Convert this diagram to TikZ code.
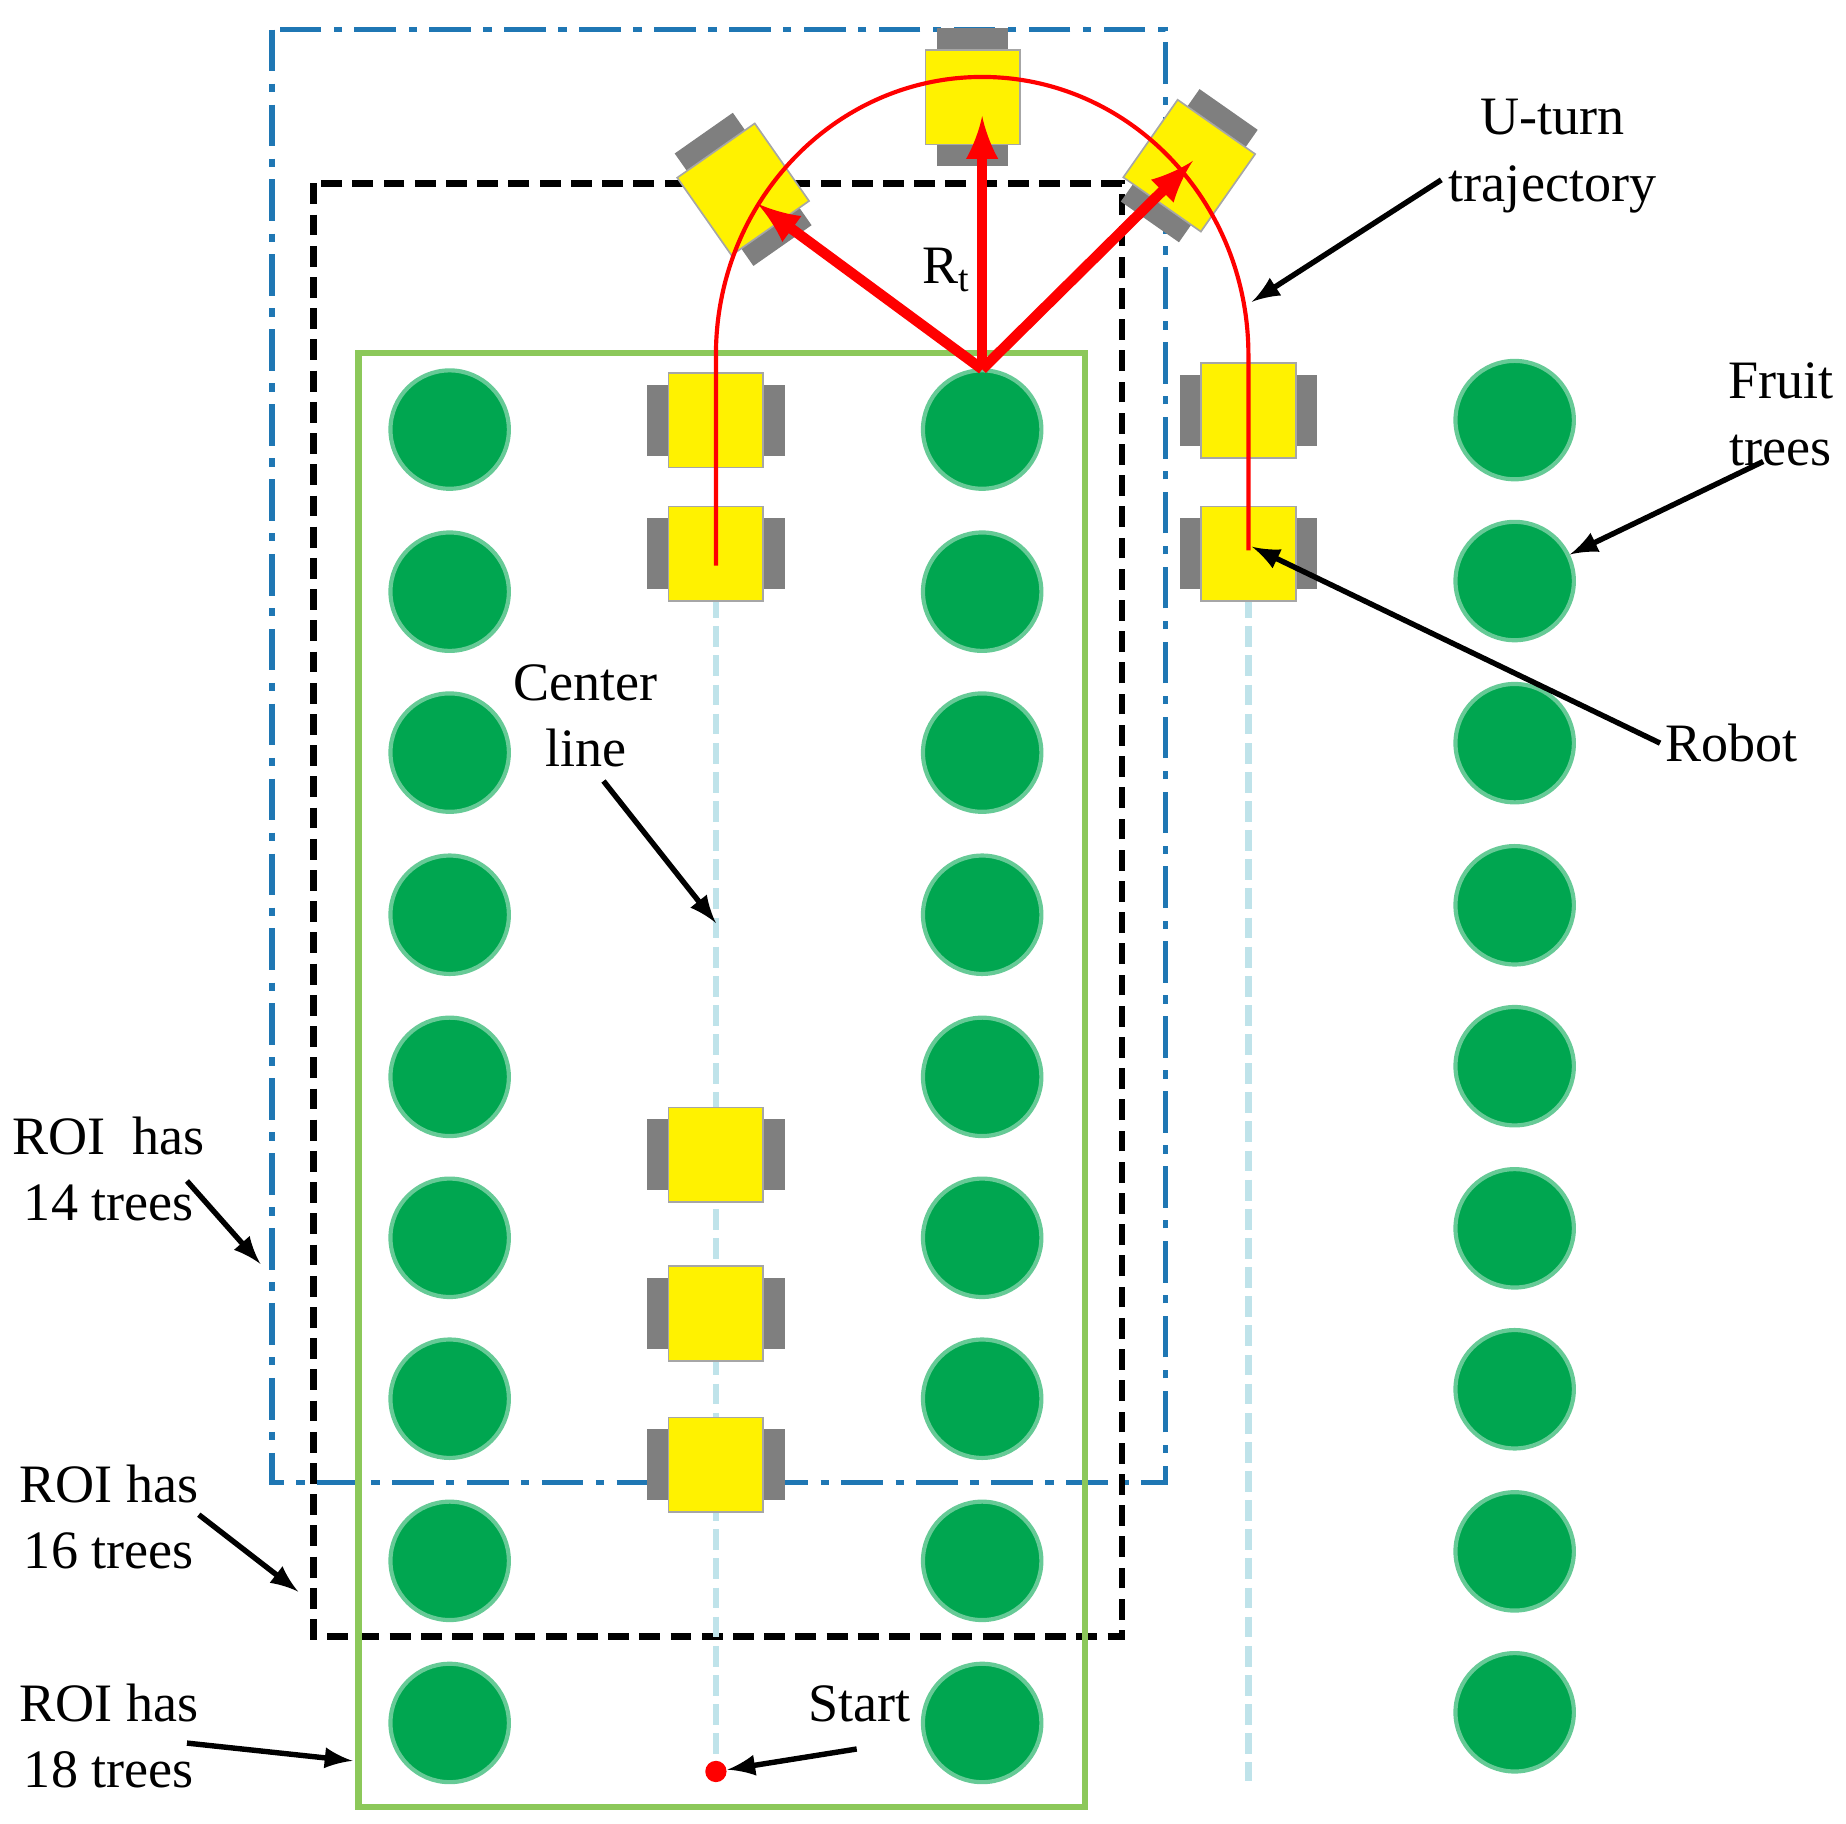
\documentclass[tikz,border=0pt]{standalone}
\usepackage{fontspec}
\setmainfont{Liberation Serif}
\begin{document}
\begin{tikzpicture}[x=0.01cm,y=-0.01cm,
  tree/.style={circle,fill=treeg,draw=treeg!60!white,line width=1pt,minimum size=1cm,inner sep=0},
  lbl/.style={font=\fontsize{13}{16}\selectfont,align=center,inner sep=1pt},
  pt/.style={-latex,line width=1.3pt},
  redarr/.style={-latex,red,line width=2.5pt},
  cline/.style={lightblue,line width=1.5pt,dash pattern=on 5pt off 2pt},
  robot/.pic={
    \fill[wheelg] (-58,-30) rectangle (-40,30);
    \fill[wheelg] (40,-30) rectangle (58,30);
    \draw[fill=yellow,draw=gray!70] (-40,-40) rectangle (40,40);
  }]
\definecolor{treeg}{HTML}{00A650}
\definecolor{wheelg}{HTML}{7F7F7F}
\definecolor{lightblue}{HTML}{BFE3EA}
\definecolor{roiblue}{HTML}{1F77B4}
\useasboundingbox (0,0) rectangle (1560,1541);
% ROI frames
\draw[roiblue,line width=1.3pt,dash pattern=on 10pt off 3pt on 2pt off 3pt] (230,25) rectangle (985,1253);
\draw[black,line width=1.5pt,dash pattern=on 5pt off 2.5pt] (265,155) rectangle (948,1383);
\draw[draw={rgb,255:red,140;green,200;blue,90},line width=1.5pt] (303,298) rectangle (917,1527);
% trees
\foreach \y [count=\i] in {363,500,636,773,910,1046,1182,1319,1456}{
  \node[tree] (L\i) at (380,\y) {};
  \node[tree] (M\i) at (830,\y) {};
}
\foreach \y [count=\i] in {355,491,628,765,901,1038,1174,1311,1447}{
  \node[tree] (R\i) at (1280,\y) {};
}
% center lines
\coordinate (c1a) at (605,480); \coordinate (c1b) at (605,1497);
\coordinate (c2a) at (1055,480); \coordinate (c2b) at (1055,1505);
\draw[cline] (c1a) -- (c1b);
\draw[cline] (c2a) -- (c2b);
% robots
\foreach \x/\y/\a in {605/355/0,605/468/0,605/976/0,605/1110/0,605/1238/0,1055/347/0,1055/468/0,822/82/90,628/160/-55,1005/140/55}{
  \pic[rotate=\a] at (\x,\y) {robot};
}
% trajectory
\coordinate (O) at (830,312);
\draw[red,line width=1pt] (605,478) -- (605,300) arc[start angle=180,end angle=0,x radius=225,y radius=-235] -- (1055,465);
\coordinate (t1) at (640,172); \coordinate (t2) at (830,98); \coordinate (t3) at (1008,136);
\draw[redarr] (O) -- (t1);
\draw[redarr] (O) -- (t2);
\draw[redarr] (O) -- (t3);
\node[lbl] (rt) at (800,228) {R\textsubscript{t}};
\node[circle,fill=red,inner sep=0,minimum size=0.18cm] (start) at (605,1497) {};
% labels
\node[lbl] (uturn) at (1312,132) {U-turn\\trajectory};
\coordinate (uturnE) at (1058,255);
\draw[pt] (1218,152) -- (uturnE);
\node[lbl] (fruit) at (1505,350) {Fruit\\trees};
\draw[pt] (1490,390) -- (R2);
\node[lbl] (robot) at (1463,628) {Robot};
\coordinate (robE) at (1058,462);
\draw[pt] (robot.west) -- (robE);
\node[lbl] (center) at (495,605) {Center\\line};
\coordinate (cenE) at (605,780);
\draw[pt] (510,660) -- (cenE);
\node[lbl] (roi14) at (92,988) {ROI \ has\\14 trees};
\coordinate (r14) at (220,1068);
\draw[pt] (158,998) -- (r14);
\node[lbl] (roi16) at (92,1282) {ROI has\\16 trees};
\coordinate (r16) at (252,1345);
\draw[pt] (168,1280) -- (r16);
\node[lbl] (roi18) at (92,1467) {ROI has\\18 trees};
\coordinate (r18) at (298,1488);
\draw[pt] (158,1473) -- (r18);
\node[lbl] (st) at (726,1440) {Start};
\draw[pt] (724,1478) -- (start);
\end{tikzpicture}
\end{document}
